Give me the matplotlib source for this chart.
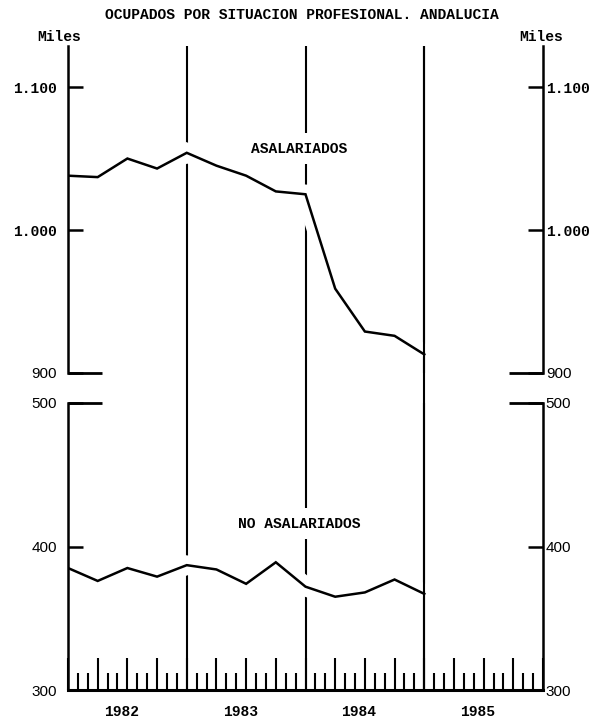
"""
Ocupados por situacion profesional. Andalucia (miles de personas)
"""
import matplotlib.pyplot as plt
import matplotlib.patheffects as pe
from matplotlib.ticker import MultipleLocator

MONO = 'Liberation Mono'
SANS = 'Liberation Sans'

# datos trimestrales (miles)
trimestres = [1982.0, 1982.25, 1982.5, 1982.75, 1983.0, 1983.25, 1983.5, 1983.75,
              1984.0, 1984.25, 1984.5, 1984.75, 1985.0]
asalariados = [1038, 1037, 1050, 1043, 1054, 1045, 1038, 1027, 1025, 959, 929, 926, 913]
no_asalariados = [385, 376, 385, 379, 387, 384, 374, 389, 372, 365, 368, 377, 367]
anios = [1982, 1983, 1984, 1985]
ticks_sup = [900, 1000, 1100]
ticks_inf = [300, 400, 500]


def etiqueta(v):
    return f'{v:,}'.replace(',', '.')


W, H = 603, 722
fig = plt.figure(figsize=(W / 100, H / 100), dpi=100)

x0, ancho = 68 / W, 475 / W
ax_bg = fig.add_axes([x0, 32 / H, ancho, 644 / H])
ax_sup = fig.add_axes([x0, 349 / H, ancho, 327 / H])
ax_inf = fig.add_axes([x0, 32 / H, ancho, 287 / H])
ax_bg.set_zorder(0)
ax_sup.set_zorder(1)
ax_inf.set_zorder(1)

# lineas verticales de separacion de anios
ax_bg.set_xlim(1982, 1986)
ax_bg.set_ylim(0, 1)
ax_bg.axis('off')
for a in anios[1:]:
    ax_bg.axvline(a, color='black', lw=1.5)

halo = [pe.Stroke(linewidth=14, foreground='white', capstyle='butt'), pe.Normal()]

paneles = [
    (ax_sup, asalariados, (900, 1128.7), ticks_sup, 900, 'ASALARIADOS', 1057),
    (ax_inf, no_asalariados, (300, 500), ticks_inf, 500, 'NO ASALARIADOS', 416),
]

for ax, serie, ylim, ticks, ybarra, nombre, ytexto in paneles:
    ax.patch.set_visible(False)
    ax.set_xlim(1982, 1986)
    ax.set_ylim(*ylim)
    ax.plot(trimestres, serie, color='black', lw=1.8, solid_joinstyle='miter',
            path_effects=halo, zorder=2)
    ax.axvline(1985, color='black', lw=1.5, zorder=3)
    ax.text(1983.945, ytexto, nombre, family=MONO, fontweight='bold', fontsize=10.5,
            ha='center', va='center', zorder=4,
            bbox=dict(facecolor='white', edgecolor='none', pad=6))
    # tramos horizontales del eje cortado
    ax.hlines(ybarra, 1982, 1982.29, color='black', lw=2, clip_on=False)
    ax.hlines(ybarra, 1985.71, 1986, color='black', lw=2, clip_on=False)

    for s in ['left', 'right']:
        ax.spines[s].set_linewidth(1.8)
    ax.spines['top'].set_visible(False)

    ax.set_yticks(ticks, labels=[etiqueta(v) for v in ticks])
    ax.tick_params(axis='y', direction='in', length=11, width=1.8, pad=8)
    derecha = ax.twinx()
    derecha.set_ylim(*ylim)
    derecha.axis('off') if False else None
    for s in derecha.spines.values():
        s.set_visible(False)
    derecha.set_yticks(ticks, labels=[etiqueta(v) for v in ticks])
    derecha.tick_params(axis='y', direction='in', length=11, width=1.8, pad=2)
    for eje in (ax, derecha):
        for lab in eje.get_yticklabels():
            if '.' in lab.get_text():
                lab.set_fontfamily(MONO)
                lab.set_fontweight('bold')
                lab.set_fontsize(10.5)
            else:
                lab.set_fontfamily(SANS)
                lab.set_fontsize(11)

# panel superior sin eje inferior
ax_sup.spines['bottom'].set_visible(False)
ax_sup.set_xticks([])

# panel inferior: marcas mensuales y trimestrales
ax_inf.spines['bottom'].set_linewidth(2.2)
ax_inf.xaxis.set_major_locator(MultipleLocator(0.25))
ax_inf.xaxis.set_minor_locator(MultipleLocator(1 / 12))
ax_inf.tick_params(axis='x', which='major', direction='in', length=23, width=1.5,
                   labelbottom=False)
ax_inf.tick_params(axis='x', which='minor', direction='in', length=12, width=1.5)
for a in anios:
    ax_inf.text(a + 0.45, -22 / 287, str(a), transform=ax_inf.get_xaxis_transform(),
                family=MONO, fontweight='bold', fontsize=10.5, ha='center', va='center')

ax_sup.text(-0.019, 1.005, 'Miles', transform=ax_sup.transAxes, family=MONO,
            fontweight='bold', fontsize=10.5, ha='center', va='bottom')
ax_sup.text(0.996, 1.005, 'Miles', transform=ax_sup.transAxes, family=MONO,
            fontweight='bold', fontsize=10.5, ha='center', va='bottom')
fig.text(0.5, 1 - 15 / H, 'OCUPADOS POR SITUACION PROFESIONAL. ANDALUCIA',
         family=MONO, fontweight='bold', fontsize=10.5, ha='center', va='center')

fig.savefig('out.png', dpi=100)
